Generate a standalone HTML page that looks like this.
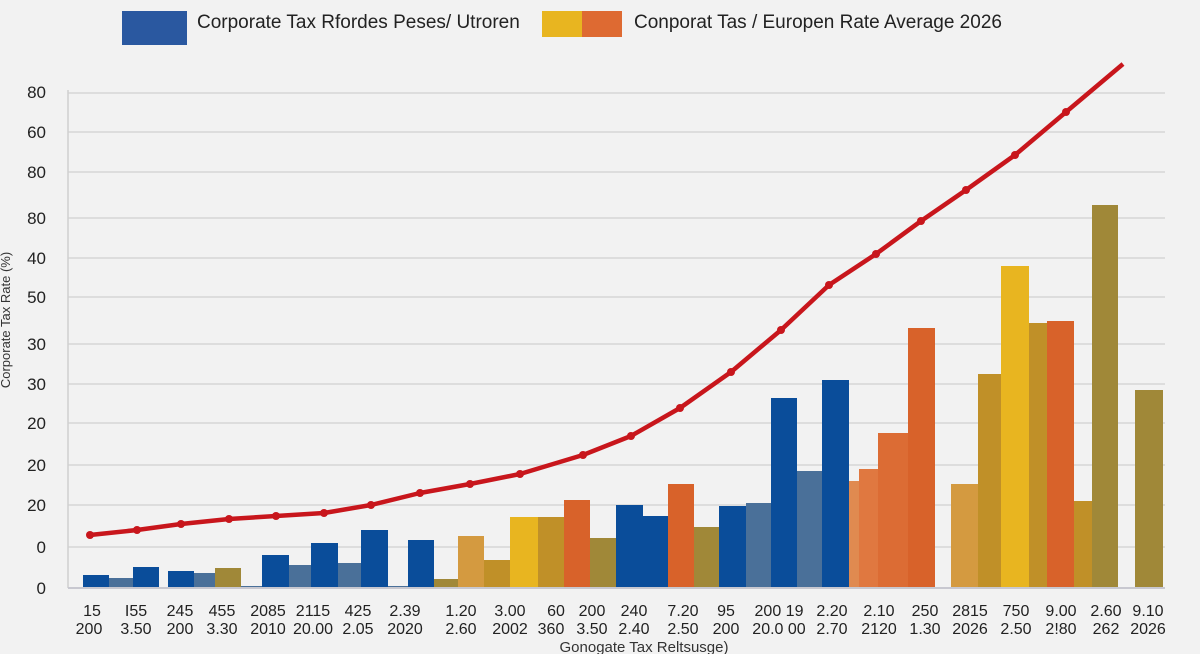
<!DOCTYPE html>
<html><head><meta charset="utf-8"><style>
html,body{margin:0;padding:0;background:#f2f2f2;}
svg{display:block;font-family:"Liberation Sans",sans-serif;}
</style></head><body>
<svg width="1200" height="654" viewBox="0 0 1200 654" xmlns="http://www.w3.org/2000/svg">
<rect width="1200" height="654" fill="#f2f2f2"/>
<!-- legend -->
<rect x="122" y="11" width="65" height="34" fill="#2a58a0"/>
<text x="197" y="28" font-size="19" fill="#222">Corporate Tax Rfordes Peses/ Utroren</text>
<rect x="542" y="11" width="40" height="26" fill="#e8b520"/>
<rect x="582" y="11" width="40" height="26" fill="#de6a32"/>
<text x="634" y="28" font-size="19" fill="#222">Conporat Tas / Europen Rate Average  2026</text>
<!-- grid -->
<g stroke="#d6d6d6" stroke-width="1.5">
<line x1="68" x2="1165" y1="93" y2="93"/><line x1="68" x2="1165" y1="132" y2="132"/>
<line x1="68" x2="1165" y1="172" y2="172"/><line x1="68" x2="1165" y1="218" y2="218"/>
<line x1="68" x2="1165" y1="258" y2="258"/><line x1="68" x2="1165" y1="297" y2="297"/>
<line x1="68" x2="1165" y1="344" y2="344"/><line x1="68" x2="1165" y1="384" y2="384"/>
<line x1="68" x2="1165" y1="423" y2="423"/><line x1="68" x2="1165" y1="465" y2="465"/>
<line x1="68" x2="1165" y1="505" y2="505"/><line x1="68" x2="1165" y1="547" y2="547"/>
</g>
<line x1="68" x2="68" y1="90" y2="588" stroke="#d0d0d0" stroke-width="1.5"/>
<!-- y labels -->
<g font-size="17" fill="#222" text-anchor="end">
<text x="46" y="98">80</text><text x="46" y="138">60</text><text x="46" y="178">80</text>
<text x="46" y="224">80</text><text x="46" y="264">40</text><text x="46" y="303">50</text>
<text x="46" y="350">30</text><text x="46" y="390">30</text><text x="46" y="429">20</text>
<text x="46" y="471">20</text><text x="46" y="511">20</text><text x="46" y="553">0</text>
<text x="46" y="594">0</text>
</g>
<text transform="translate(10,320) rotate(-90)" font-size="13" fill="#333" text-anchor="middle">Corporate Tax Rate (%)</text>
<!-- bars -->
<g>
<rect x="83" y="575" width="26" height="13" fill="#0a4d9a"/>
<rect x="109" y="578" width="24" height="10" fill="#4a7099"/>
<rect x="133" y="567" width="26" height="21" fill="#0a4d9a"/>
<rect x="168" y="571" width="26" height="17" fill="#0a4d9a"/>
<rect x="194" y="573" width="21" height="15" fill="#4a7099"/>
<rect x="215" y="568" width="26" height="20" fill="#a08838"/>
<rect x="241" y="586" width="21" height="2" fill="#4a7099"/>
<rect x="262" y="555" width="27" height="33" fill="#0a4d9a"/>
<rect x="289" y="565" width="22" height="23" fill="#4a7099"/>
<rect x="311" y="543" width="27" height="45" fill="#0a4d9a"/>
<rect x="338" y="563" width="23" height="25" fill="#4a7099"/>
<rect x="361" y="530" width="27" height="58" fill="#0a4d9a"/>
<rect x="388" y="586" width="20" height="2" fill="#4a7099"/>
<rect x="408" y="540" width="26" height="48" fill="#0a4d9a"/>
<rect x="434" y="579" width="24" height="9" fill="#a08838"/>
<rect x="458" y="536" width="26" height="52" fill="#d49a40"/>
<rect x="484" y="560" width="26" height="28" fill="#c09028"/>
<rect x="510" y="517" width="28" height="71" fill="#e8b520"/>
<rect x="538" y="517" width="26" height="71" fill="#c09028"/>
<rect x="564" y="500" width="26" height="88" fill="#d8622a"/>
<rect x="590" y="538" width="26" height="50" fill="#a08838"/>
<rect x="616" y="505" width="27" height="83" fill="#0a4d9a"/>
<rect x="643" y="516" width="25" height="72" fill="#0a4d9a"/>
<rect x="668" y="484" width="26" height="104" fill="#d8622a"/>
<rect x="694" y="527" width="25" height="61" fill="#a08838"/>
<rect x="719" y="506" width="27" height="82" fill="#0a4d9a"/>
<rect x="746" y="503" width="25" height="85" fill="#4a7099"/>
<rect x="771" y="398" width="26" height="190" fill="#0a4d9a"/>
<rect x="797" y="471" width="25" height="117" fill="#4a7099"/>
<rect x="822" y="380" width="27" height="208" fill="#0a4d9a"/>
<rect x="849" y="481" width="10" height="107" fill="#e08a50"/>
<rect x="859" y="469" width="19" height="119" fill="#e07840"/>
<rect x="878" y="433" width="30" height="155" fill="#dc6c34"/>
<rect x="908" y="328" width="27" height="260" fill="#d8622a"/>
<rect x="951" y="484" width="27" height="104" fill="#d49a40"/>
<rect x="978" y="374" width="23" height="214" fill="#c09028"/>
<rect x="1001" y="266" width="28" height="322" fill="#e8b520"/>
<rect x="1029" y="323" width="18" height="265" fill="#c09028"/>
<rect x="1047" y="321" width="27" height="267" fill="#d8622a"/>
<rect x="1074" y="501" width="18" height="87" fill="#c09028"/>
<rect x="1092" y="205" width="26" height="383" fill="#a08838"/>
<rect x="1135" y="390" width="28" height="198" fill="#a08838"/>
</g>
<line x1="68" x2="1165" y1="588" y2="588" stroke="#c8c8d0" stroke-width="2"/>
<!-- line -->
<polyline fill="none" stroke="#c8161c" stroke-width="4.5" stroke-linejoin="round" points="90,535 137,530 181,524 229,519 276,516 324,513 371,505 420,493 470,484 520,474 583,455 631,436 680,408 731,372 781,330 829,285 876,254 921,221 966,190 1015,155 1066,112 1123,64"/>
<g fill="#c8161c">
<circle cx="90" cy="535" r="4"/><circle cx="137" cy="530" r="4"/><circle cx="181" cy="524" r="4"/><circle cx="229" cy="519" r="4"/><circle cx="276" cy="516" r="4"/><circle cx="324" cy="513" r="4"/><circle cx="371" cy="505" r="4"/><circle cx="420" cy="493" r="4"/><circle cx="470" cy="484" r="4"/><circle cx="520" cy="474" r="4"/><circle cx="583" cy="455" r="4"/><circle cx="631" cy="436" r="4"/><circle cx="680" cy="408" r="4"/><circle cx="731" cy="372" r="4"/><circle cx="781" cy="330" r="4"/><circle cx="829" cy="285" r="4"/><circle cx="876" cy="254" r="4"/><circle cx="921" cy="221" r="4"/><circle cx="966" cy="190" r="4"/><circle cx="1015" cy="155" r="4"/><circle cx="1066" cy="112" r="4"/>
</g>
<!-- x labels -->
<g font-size="16" fill="#222" text-anchor="middle">
<text x="92" y="616">15</text><text x="89" y="634">200</text>
<text x="136" y="616">I55</text><text x="136" y="634">3.50</text>
<text x="180" y="616">245</text><text x="180" y="634">200</text>
<text x="222" y="616">455</text><text x="222" y="634">3.30</text>
<text x="268" y="616">2085</text><text x="268" y="634">2010</text>
<text x="313" y="616">2115</text><text x="313" y="634">20.00</text>
<text x="358" y="616">425</text><text x="358" y="634">2.05</text>
<text x="405" y="616">2.39</text><text x="405" y="634">2020</text>
<text x="461" y="616">1.20</text><text x="461" y="634">2.60</text>
<text x="510" y="616">3.00</text><text x="510" y="634">2002</text>
<text x="556" y="616">60</text><text x="551" y="634">360</text>
<text x="592" y="616">200</text><text x="592" y="634">3.50</text>
<text x="634" y="616">240</text><text x="634" y="634">2.40</text>
<text x="683" y="616">7.20</text><text x="683" y="634">2.50</text>
<text x="726" y="616">95</text><text x="726" y="634">200</text>
<text x="779" y="616">200 19</text><text x="779" y="634">20.0 00</text>
<text x="832" y="616">2.20</text><text x="832" y="634">2.70</text>
<text x="879" y="616">2.10</text><text x="879" y="634">2120</text>
<text x="925" y="616">250</text><text x="925" y="634">1.30</text>
<text x="970" y="616">2815</text><text x="970" y="634">2026</text>
<text x="1016" y="616">750</text><text x="1016" y="634">2.50</text>
<text x="1061" y="616">9.00</text><text x="1061" y="634">2!80</text>
<text x="1106" y="616">2.60</text><text x="1106" y="634">262</text>
<text x="1148" y="616">9.10</text><text x="1148" y="634">2026</text>
</g>
<text x="644" y="652" font-size="15" fill="#333" text-anchor="middle">Gonogate Tax Reltsusge)</text>
</svg>
</body></html>
